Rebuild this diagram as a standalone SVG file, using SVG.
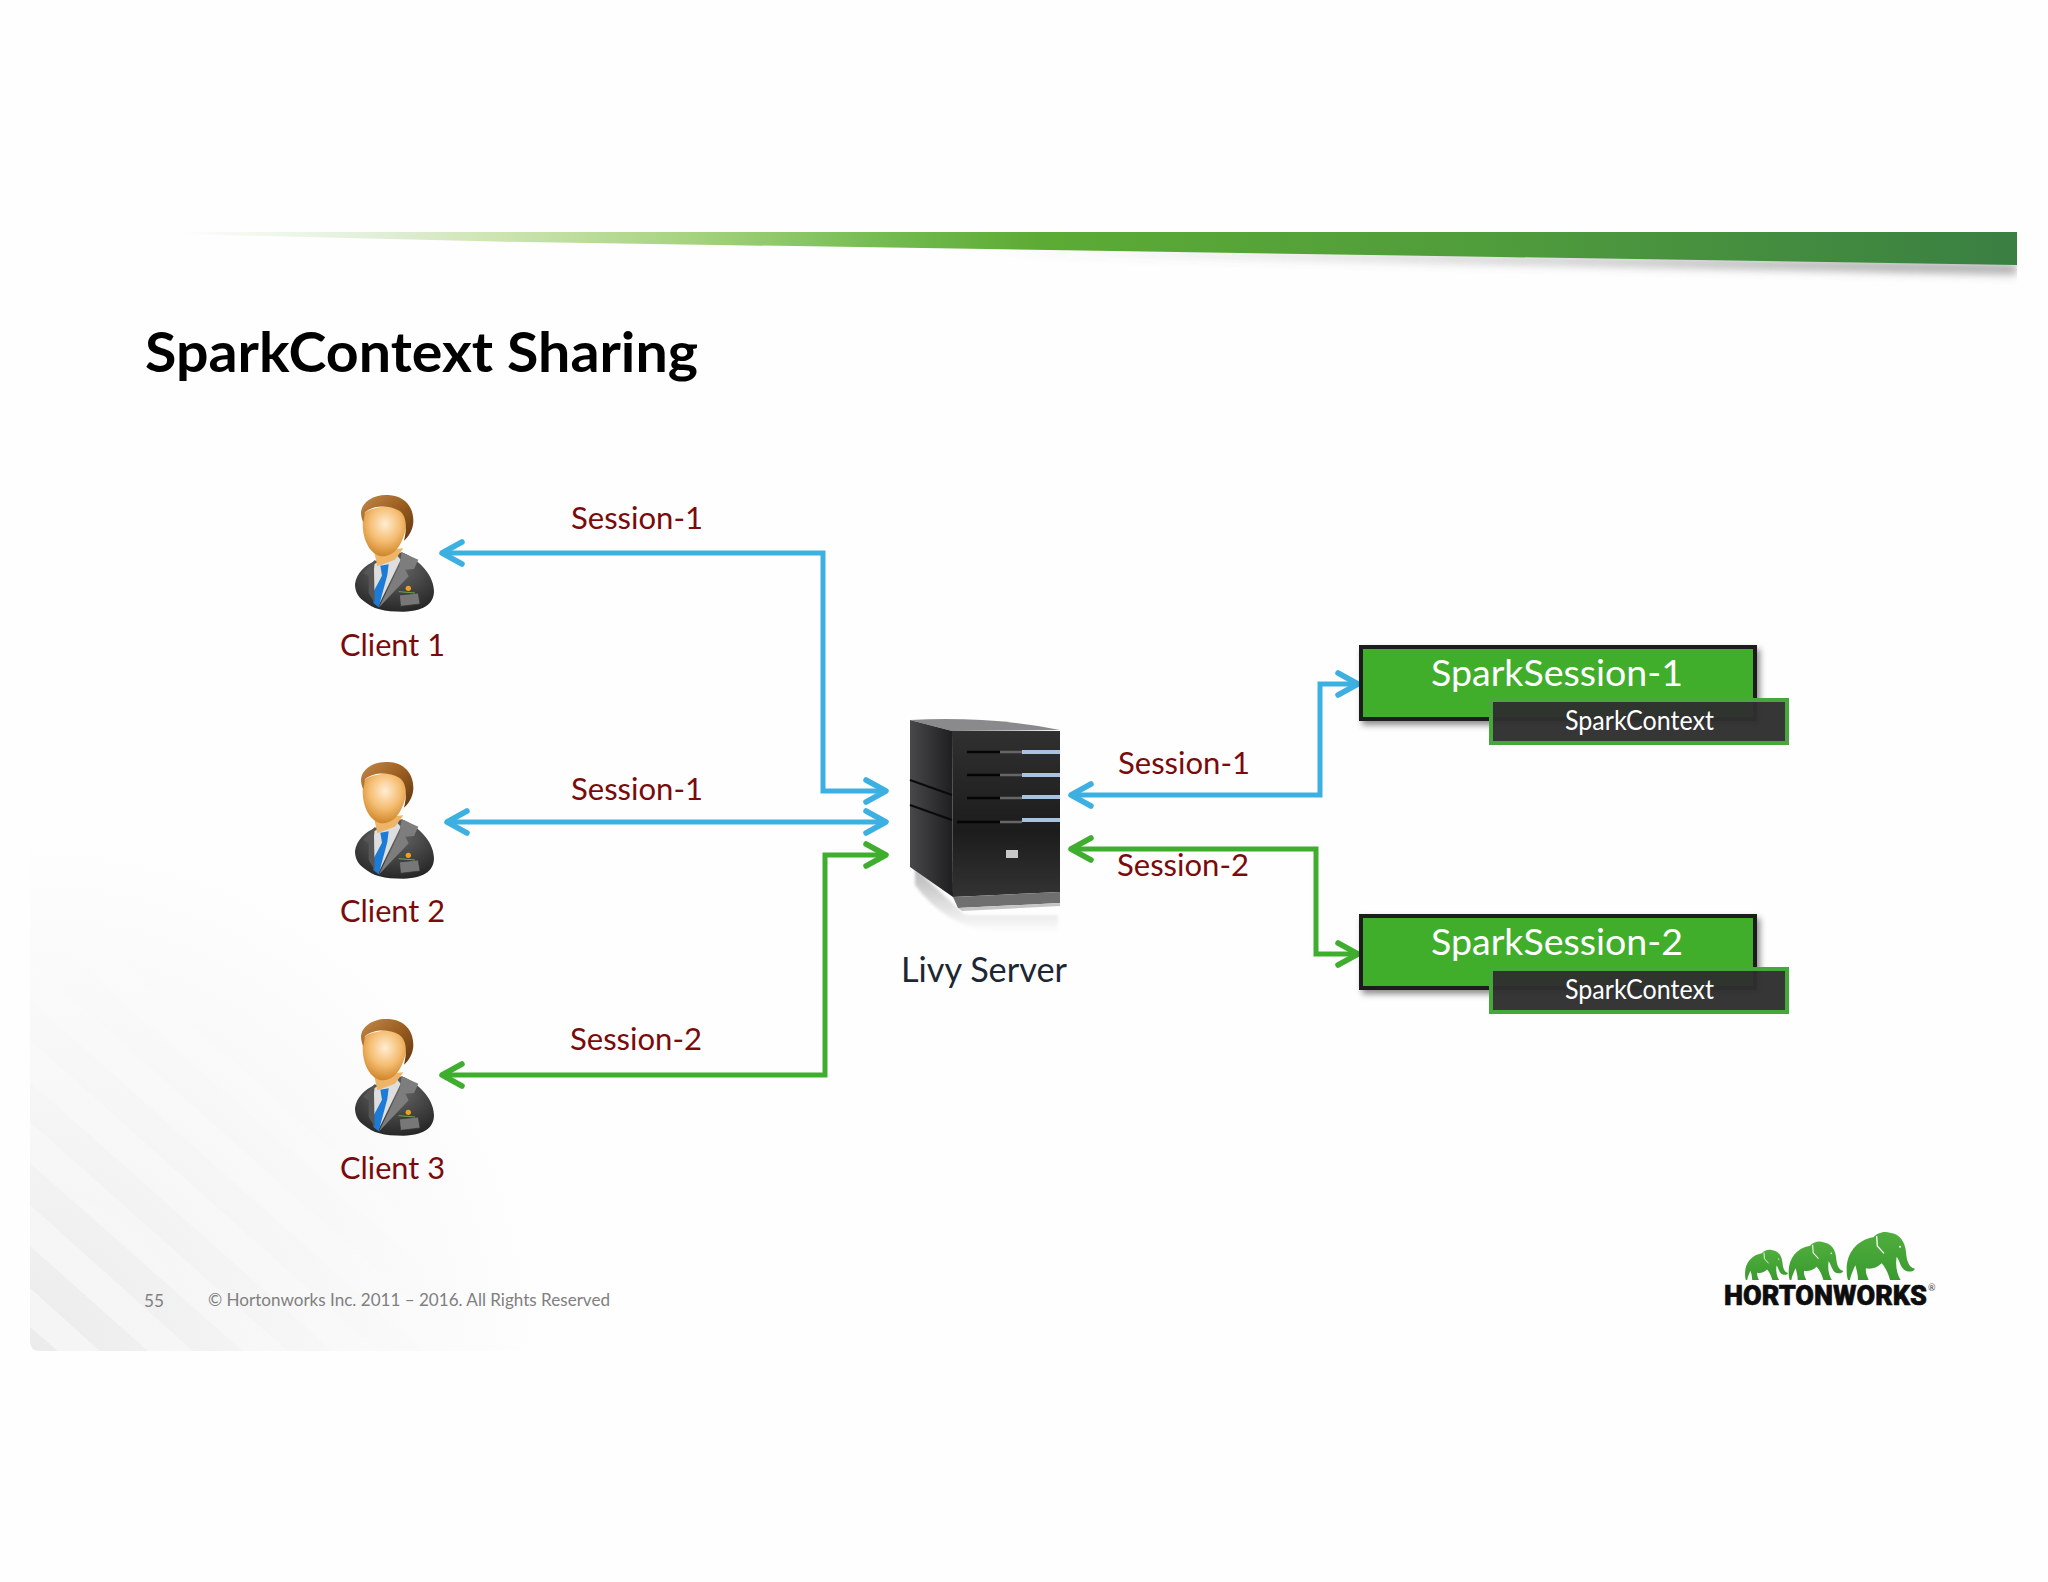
<svg xmlns="http://www.w3.org/2000/svg" width="2048" height="1582" viewBox="0 0 2048 1582">
<style>
text{font-family:Lato,"Liberation Sans",sans-serif}
.lbl{fill:#7b0a0a;font-size:31px}
.wire{fill:none;stroke-width:5;stroke-linejoin:miter}
.blue{stroke:#3db0e2;marker-start:url(#ab);marker-end:url(#ab)}
.green{stroke:#3fad2e;marker-start:url(#ag);marker-end:url(#ag)}
.foot{fill:#808080;font-size:17px}
.sess{fill:#3fae2a;stroke:#1c1c1c;stroke-width:4}
.ctx{fill:#2e2f2e;fill-opacity:.97;stroke:#46a83a;stroke-width:4}
</style>
<defs>
<marker id="ab" viewBox="-26 -15 30 30" refX="0" refY="0" markerWidth="30" markerHeight="30" markerUnits="userSpaceOnUse" orient="auto-start-reverse"><path d="M-20,-11 L0,0 L-20,11" fill="none" stroke="#3db0e2" stroke-width="5.5" stroke-linecap="round" stroke-linejoin="round"/></marker>
<marker id="ag" viewBox="-26 -15 30 30" refX="0" refY="0" markerWidth="30" markerHeight="30" markerUnits="userSpaceOnUse" orient="auto-start-reverse"><path d="M-20,-11 L0,0 L-20,11" fill="none" stroke="#3fad2e" stroke-width="5.5" stroke-linecap="round" stroke-linejoin="round"/></marker>
<linearGradient id="barG" gradientUnits="userSpaceOnUse" x1="175" x2="2017" y1="0" y2="0"><stop offset="0" stop-color="#fefefe"/><stop offset=".115" stop-color="#e0eed6"/><stop offset=".17" stop-color="#cfe5b4"/><stop offset=".28" stop-color="#a5d37f"/><stop offset=".39" stop-color="#72ba4e"/><stop offset=".47" stop-color="#5cab34"/><stop offset=".72" stop-color="#4f9c3c"/><stop offset="1" stop-color="#3a7f42"/></linearGradient>
<linearGradient id="shadG" gradientUnits="userSpaceOnUse" x1="1000" x2="1900" y1="0" y2="0"><stop offset="0" stop-color="#666" stop-opacity="0"/><stop offset="1" stop-color="#666" stop-opacity=".6"/></linearGradient>
<radialGradient id="panelG" gradientUnits="userSpaceOnUse" cx="30" cy="1351" r="520"><stop offset="0" stop-color="#ebebec"/><stop offset=".45" stop-color="#f5f5f6"/><stop offset="1" stop-color="#fefefe"/></radialGradient>
<radialGradient id="stripeG" gradientUnits="userSpaceOnUse" cx="30" cy="1351" r="520"><stop offset="0" stop-color="#fff" stop-opacity=".5"/><stop offset="1" stop-color="#fff" stop-opacity="0"/></radialGradient>
<radialGradient id="face" cx=".5" cy=".35" r=".7"><stop offset="0" stop-color="#ffedd2"/><stop offset=".5" stop-color="#f5bd72"/><stop offset="1" stop-color="#c97c1c"/></radialGradient>
<linearGradient id="hair" x1="0" y1="0" x2="1" y2="1"><stop offset="0" stop-color="#c48a4a"/><stop offset=".5" stop-color="#9a5e20"/><stop offset="1" stop-color="#5e3510"/></linearGradient>
<radialGradient id="suit" cx=".5" cy=".25" r=".85"><stop offset="0" stop-color="#6a6a6a"/><stop offset=".6" stop-color="#3d3d3d"/><stop offset="1" stop-color="#1f1f1f"/></radialGradient>
<linearGradient id="front" x1="0" y1="0" x2="0" y2="1"><stop offset="0" stop-color="#303030"/><stop offset=".6" stop-color="#1c1c1c"/><stop offset="1" stop-color="#333"/></linearGradient>
<linearGradient id="side" x1="0" y1="0" x2="1" y2="0"><stop offset="0" stop-color="#48484a"/><stop offset="1" stop-color="#1e1e20"/></linearGradient>
<linearGradient id="ele" x1="0" y1="0" x2="0" y2="1"><stop offset="0" stop-color="#4fae3c"/><stop offset="1" stop-color="#3a9a30"/></linearGradient>
<linearGradient id="refl" x1="0" y1="0" x2="0" y2="1"><stop offset="0" stop-color="#999"/><stop offset="1" stop-color="#fefefe"/></linearGradient>
<filter id="blur6" x="-5%" y="-200%" width="110%" height="500%"><feGaussianBlur stdDeviation="5"/></filter>
<filter id="soft" x="-20%" y="-20%" width="140%" height="140%"><feDropShadow dx="3" dy="4" stdDeviation="3" flood-color="#000" flood-opacity=".45"/></filter>
<filter id="b1" x="-10%" y="-10%" width="120%" height="120%"><feGaussianBlur stdDeviation="1.5"/></filter>
<clipPath id="panelClip"><path d="M30,830 H560 V1351 H40 Q30,1351 30,1341 Z"/></clipPath>
<clipPath id="barClip"><rect x="0" y="200" width="2017" height="120"/></clipPath>
<g id="person" transform="scale(.3333)">
<path d="M165,345 C170,310 195,290 225,275 L305,250 C345,265 400,310 402,365 C402,400 380,425 310,428 C250,428 220,420 190,395 C172,382 165,365 165,345Z" fill="url(#suit)"/>
<path d="M222,285 L290,258 L302,272 L238,405 L222,385Z" fill="#dedede"/>
<path d="M241,290 L266,286 L262,318 L236,415 L220,402 L222,365 L246,320Z" fill="#1b7bd6"/>
<path d="M305,250 L355,272 L342,300 L316,302 L326,322 L236,416 L298,292Z" fill="#7d7d7d"/>
<path d="M225,272 L190,312 L206,322 L206,372 L224,402 L222,300Z" fill="#565656"/>
<path d="M298,378 L355,372 L360,405 L302,412Z" fill="#777" stroke="#333" stroke-width="2"/>
<path d="M296,368 L345,372" stroke="#6aa84f" stroke-width="3" fill="none"/>
<circle cx="325" cy="358" r="8" fill="#f0a020"/>
<path d="M222,245 L232,292 L285,272 L310,238Z" fill="#eeb468"/>
<path d="M190,140 C180,205 210,262 250,262 C292,260 316,210 322,150 C315,115 270,108 240,115 C212,120 194,126 190,140Z" fill="url(#face)"/>
<path d="M183,130 C185,100 220,75 265,78 C310,80 342,110 340,160 C338,185 325,205 312,215 C322,175 320,140 298,125 C265,108 220,108 195,130 L190,160 C185,150 183,140 183,130Z" fill="url(#hair)"/>
</g>
<g id="elephant"><path d="M440,178 C440,130 470,90 520,82 C530,70 550,62 570,68 C600,72 615,95 618,125 C620,150 625,172 645,176 C640,188 618,188 608,175 C600,165 598,150 590,140 C586,165 590,190 602,210 L570,210 C565,190 556,172 545,160 C530,175 512,178 498,175 C496,190 502,200 506,210 L474,210 C474,195 470,180 466,166 C460,180 452,195 450,210 L444,210 C440,198 440,188 440,178Z" fill="url(#ele)"/><path d="M530,78 L532,108 L552,130" fill="none" stroke="#fff" stroke-width="4"/><circle cx="600" cy="110" r="3" fill="#fff"/></g>
</defs>
<rect id="bg" width="2048" height="1582" fill="#fefefe"/>
<g id="panel" clip-path="url(#panelClip)">
<rect x="30" y="830" width="530" height="521" fill="url(#panelG)"/>
<g fill="url(#stripeG)">
<path d="M30,880 L560,1353 L520,1353 L30,920Z"/><path d="M30,960 L470,1353 L425,1353 L30,1000Z"/><path d="M30,1040 L380,1353 L335,1353 L30,1082Z"/><path d="M30,1122 L290,1353 L245,1353 L30,1163Z"/><path d="M30,1205 L195,1353 L150,1353 L30,1246Z"/><path d="M30,1288 L102,1353 L60,1353 L30,1327Z"/>
</g>
</g>
<g id="bar" clip-path="url(#barClip)">
<path d="M1000,248 L2017,264 V274 L1000,254Z" fill="url(#shadG)" filter="url(#blur6)"/>
<path d="M175,232 H2017 V265 L1500,257 L1050,250 L506,241.7 L175,234Z" fill="url(#barG)"/>
</g>
<text id="title" x="145" y="372" font-size="55" font-weight="700" fill="#000" textLength="553" lengthAdjust="spacingAndGlyphs">SparkContext Sharing</text>
<g id="connectors">
<path class="wire blue" d="M442,553 H823 V791 H886"/>
<path class="wire blue" d="M447,822 H886"/>
<path class="wire green" d="M442,1075 H825 V855 H886"/>
<path class="wire blue" d="M1071,795 H1320 V684 H1358"/>
<path class="wire green" d="M1071,849 H1316 V954 H1358"/>
</g>
<g id="client1"><use href="#person" transform="translate(300,469)"/><text class="lbl" x="340" y="656" textLength="105" lengthAdjust="spacingAndGlyphs">Client 1</text></g>
<g id="client2"><use href="#person" transform="translate(300,736)"/><text class="lbl" x="340" y="922" textLength="105" lengthAdjust="spacingAndGlyphs">Client 2</text></g>
<g id="client3"><use href="#person" transform="translate(300,993)"/><text class="lbl" x="340" y="1179" textLength="105" lengthAdjust="spacingAndGlyphs">Client 3</text></g>
<g id="labels">
<text class="lbl" x="571" y="529" textLength="132" lengthAdjust="spacingAndGlyphs">Session-1</text>
<text class="lbl" x="571" y="800" textLength="132" lengthAdjust="spacingAndGlyphs">Session-1</text>
<text class="lbl" x="570" y="1050" textLength="132" lengthAdjust="spacingAndGlyphs">Session-2</text>
<text class="lbl" x="1118" y="774" textLength="132" lengthAdjust="spacingAndGlyphs">Session-1</text>
<text class="lbl" x="1117" y="876" textLength="132" lengthAdjust="spacingAndGlyphs">Session-2</text>
</g>
<g id="server">
<path d="M915,868 L965,915 H1058 V932 H990 Q945,925 915,885Z" fill="url(#refl)" opacity=".7" filter="url(#b1)"/>
<path d="M910,720 Q990,716 1060,730 L952,731Z" fill="#8a8a8c"/>
<path d="M910,720 L952,731 L953,897 L910,867Z" fill="url(#side)"/>
<path d="M952,731 H1060 V892 L953,897Z" fill="url(#front)"/>
<path d="M953,897 L1060,892 V903 L958,908Z" fill="#6f6f6f"/>
<path d="M958,908 L1060,903 V906 L962,911Z" fill="#c4c4c4"/>
<g fill="none" stroke-width="2.5">
<path d="M967,752 H1000" stroke="#050505"/><path d="M967,775 H1000" stroke="#050505"/><path d="M967,798 H1000" stroke="#050505"/><path d="M957,822 H1000" stroke="#050505"/>
<path d="M1000,752 H1022" stroke="#666"/><path d="M1000,775 H1022" stroke="#666"/><path d="M1000,798 H1022" stroke="#666"/><path d="M1000,822 H1022" stroke="#666"/>
</g>
<g fill="none" stroke="#a8c2e0" stroke-width="4">
<path d="M1022,752 H1060"/><path d="M1022,775 H1060"/><path d="M1022,797 H1060"/><path d="M1022,820 H1060"/>
</g>
<path d="M910,780 L952,795 M910,805 L952,820" stroke="#0a0a0a" stroke-width="2"/>
<rect x="1006" y="850" width="12" height="8" fill="#c8c8c8"/>
<text x="901" y="982" font-size="34" fill="#1d2733" textLength="166" lengthAdjust="spacingAndGlyphs">Livy Server</text>
</g>
<g id="sparksession1">
<rect class="sess" x="1361" y="647" width="394" height="72" filter="url(#soft)"/>
<text x="1431" y="686" font-size="37" fill="#fff" textLength="252" lengthAdjust="spacingAndGlyphs">SparkSession-1</text>
<rect class="ctx" x="1491" y="700" width="296" height="43"/>
<text x="1565" y="730" font-size="27" fill="#fff" textLength="149" lengthAdjust="spacingAndGlyphs">SparkContext</text>
</g>
<g id="sparksession2">
<rect class="sess" x="1361" y="916" width="394" height="72" filter="url(#soft)"/>
<text x="1431" y="955" font-size="37" fill="#fff" textLength="252" lengthAdjust="spacingAndGlyphs">SparkSession-2</text>
<rect class="ctx" x="1491" y="969" width="296" height="43"/>
<text x="1565" y="999" font-size="27" fill="#fff" textLength="149" lengthAdjust="spacingAndGlyphs">SparkContext</text>
</g>
<g id="footer">
<text class="foot" x="144" y="1307" textLength="20" lengthAdjust="spacingAndGlyphs">55</text>
<text class="foot" x="208" y="1306" textLength="402" lengthAdjust="spacingAndGlyphs">© Hortonworks Inc. 2011 – 2016. All Rights Reserved</text>
</g>
<g id="logo">
<g transform="translate(1700,1210) scale(.3333)"><use href="#elephant"/></g>
<g transform="translate(1700,1210) scale(.3333) translate(-86,42) scale(.8)"><use href="#elephant"/></g>
<g transform="translate(1700,1210) scale(.3333) translate(-142,78) scale(.63)"><use href="#elephant"/></g>
<text x="1724" y="1305" font-size="27" font-weight="900" fill="#0d0d0d" stroke="#0d0d0d" stroke-width=".6" style="font-family:Roboto,'Liberation Sans',sans-serif" textLength="203" lengthAdjust="spacingAndGlyphs">HORTONWORKS</text>
<text x="1928" y="1291" font-size="9" fill="#444">®</text>
</g>
</svg>
